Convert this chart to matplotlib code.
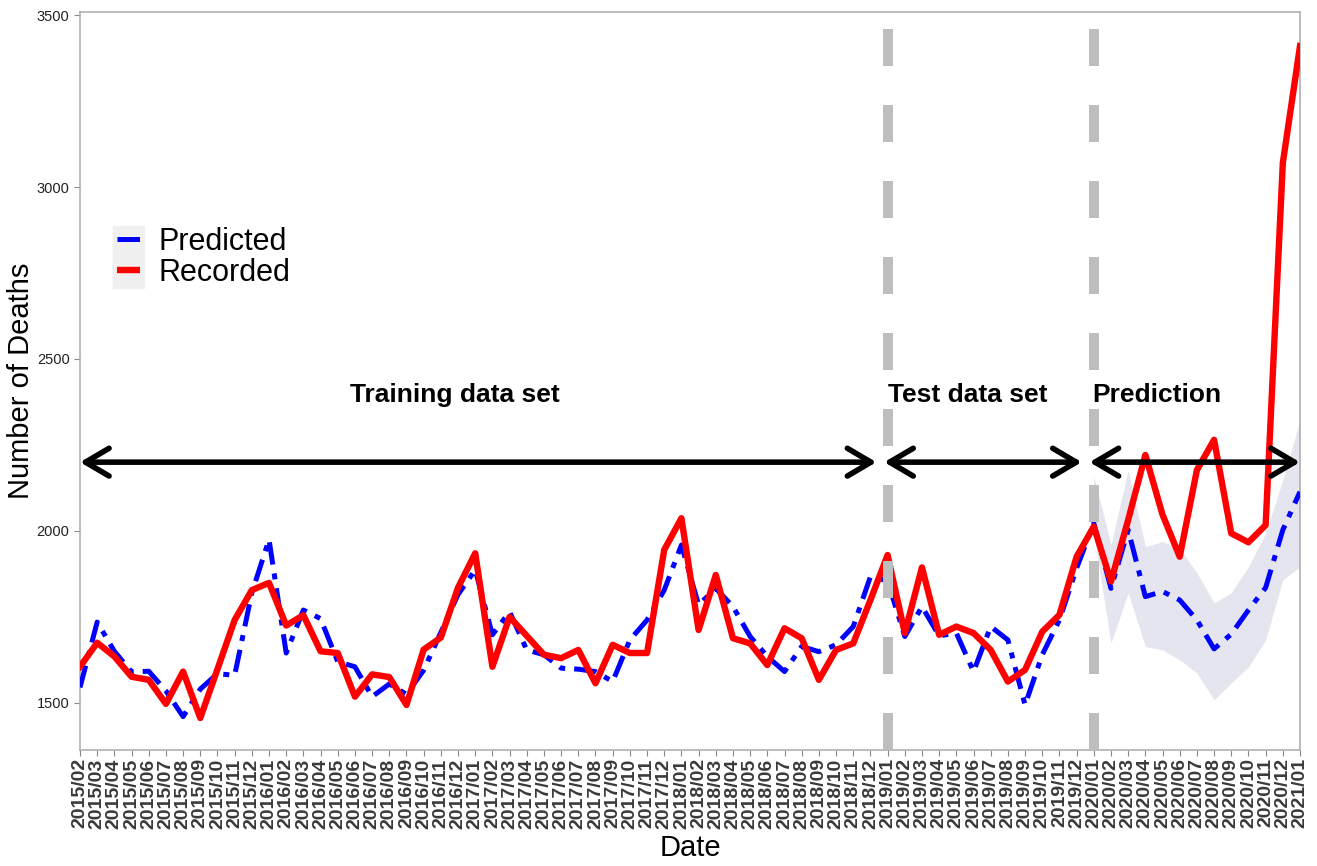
import numpy as np
import pandas as pd
import matplotlib
matplotlib.use("Agg")
import matplotlib.pyplot as plt
from matplotlib.patches import Rectangle

plt.rcParams['font.family'] = ['Liberation Sans', 'DejaVu Sans']

# monthly labels 2015/02 .. 2021/01
months = list(pd.date_range('2015-02-01', periods=72, freq='MS').strftime('%Y/%m'))

recorded = [1605, 1675, 1635, 1576, 1567, 1497, 1591, 1456, 1598, 1741,
            1828, 1849, 1725, 1755, 1650, 1645, 1518, 1583, 1575, 1494,
            1655, 1690, 1835, 1935, 1605, 1750, 1695, 1640, 1630, 1654,
            1557, 1669, 1645, 1645, 1945, 2037, 1712, 1872, 1688, 1673,
            1610, 1717, 1688, 1567, 1654, 1673, 1799, 1930, 1703, 1894,
            1698, 1722, 1703, 1654, 1562, 1596, 1707, 1756, 1925, 2013,
            1853, 2032, 2221, 2047, 1925, 2177, 2265, 1993, 1967, 2017,
            3070, 3410]

predicted = [1545, 1735, 1650, 1590, 1592, 1535, 1460, 1540, 1585, 1580,
             1820, 1975, 1645, 1770, 1745, 1620, 1605, 1518, 1555, 1525,
             1595, 1705, 1815, 1887, 1698, 1765, 1654, 1640, 1601, 1598,
             1591, 1562, 1683, 1741, 1828, 1959, 1785, 1833, 1780, 1693,
             1635, 1591, 1664, 1649, 1669, 1722, 1867, 1855, 1693, 1780,
             1695, 1703, 1591, 1722, 1683, 1494, 1640, 1741, 1892, 2022,
             1833, 2003, 1809, 1824, 1799, 1741, 1657, 1700, 1770, 1835,
             2003, 2114]

# prediction interval, 2020/01 .. 2021/01
band_start = '2020/01'
band_upper = [2160, 1960, 2177, 1954, 1969, 1950, 1878, 1791, 1820, 1896, 1993, 2148, 2323]
band_lower = [1990, 1674, 1820, 1664, 1654, 1625, 1587, 1509, 1558, 1605, 1683, 1858, 1896]

split_months = ['2019/01', '2020/01']

x = np.arange(len(months))
b0 = months.index(band_start)
xb = x[b0:b0 + len(band_upper)]

fig = plt.figure(figsize=(13.17, 8.66), dpi=100)
ax = fig.add_axes([80/1317, 1 - 750/866, 1220/1317, 738/866])

ax.fill_between(xb, band_lower, band_upper, color='#e4e5ef', lw=0, zorder=1)
ax.plot(x, predicted, color='#0000ff', lw=3.6, dashes=(4.5, 1.8, 1.2, 1.8),
        label='Predicted', zorder=3)
ax.plot(x, recorded, color='#ff0000', lw=4.6, label='Recorded', zorder=3)

for m in split_months:
    xi = months.index(m)
    ax.axvline(xi, color='#bebebe', lw=7.2, dashes=(3.7, 3.9), zorder=4,
               dash_capstyle='butt')

# arrows marking the periods
arrow_y = 2200
spans = [(0, 46.35), (46.8, 58.3), (58.75, 71)]
for a, b in spans:
    ax.annotate('', xy=(b, arrow_y), xytext=(a, arrow_y),
                arrowprops=dict(arrowstyle='<->,head_length=1.7,head_width=1.0',
                                lw=4, color='black', shrinkA=0, shrinkB=0),
                zorder=6)

ax.text(21.8, 2395, 'Training data set', ha='center', va='center',
        fontsize=19, fontweight='bold')
ax.text(47.05, 2395, 'Test data set', ha='left', va='center',
        fontsize=19, fontweight='bold')
ax.text(58.9, 2395, 'Prediction', ha='left', va='center',
        fontsize=19, fontweight='bold')

ax.set_xlim(0, 71)
ax.set_ylim(1363, 3509)
ax.set_xticks(x)
ax.set_xticklabels(months, rotation=90, fontsize=14, fontweight='bold', color='#3a3a3a')
ax.set_yticks([1500, 2000, 2500, 3000, 3500])
ax.tick_params(axis='y', labelsize=10.5, colors='#222222', length=4, color='#888888')
ax.tick_params(axis='x', length=4, color='#888888', pad=2)
for s in ax.spines.values():
    s.set_color('#b0b0b0')
    s.set_linewidth(1.2)

ax.set_xlabel('Date', fontsize=21, labelpad=4)
ax.set_ylabel('Number of Deaths', fontsize=21, labelpad=1)

# legend with grey key background
ax.add_patch(Rectangle((113/1317, 1 - 288/866), 31/1317, 62/866,
                       transform=fig.transFigure, color='#f0f0f0', zorder=0.5,
                       clip_on=False))
leg = ax.legend(loc='upper left', bbox_to_anchor=(117/1317, 1 - 227/866),
                bbox_transform=fig.transFigure, frameon=False, borderpad=0,
                borderaxespad=0, handlelength=0.75, handletextpad=0.6,
                labelspacing=0.03, fontsize=22)
leg.set_zorder(7)
for ln in leg.get_lines():
    ln.set_solid_capstyle('butt')
    ln.set_dash_capstyle('butt')

fig.savefig('out.png', dpi=100)
